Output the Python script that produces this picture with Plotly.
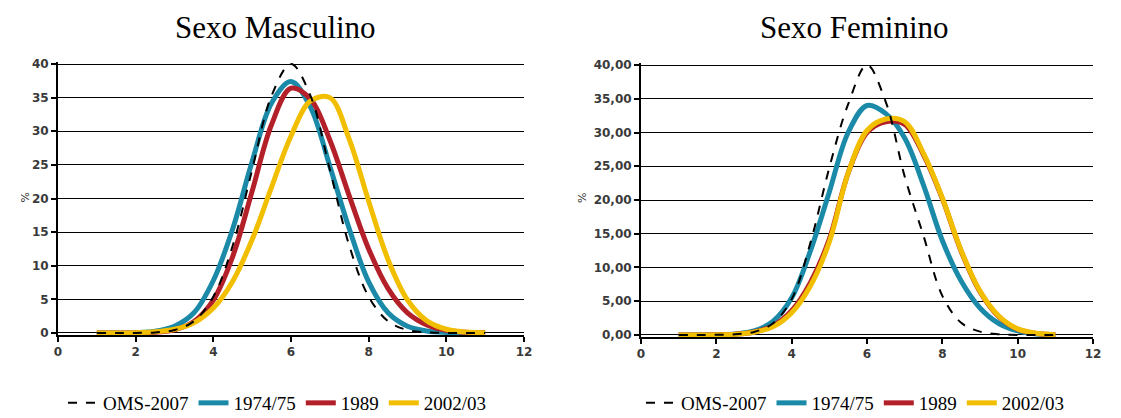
import plotly.graph_objects as go

# ---------------- data ----------------
x_vals = [1.0, 1.5, 2.0, 2.5, 3.0, 3.5, 4.0, 4.5, 5.0, 5.5, 6.0,
          6.5, 7.0, 7.5, 8.0, 8.5, 9.0, 9.5, 10.0, 10.5, 11.0]

series_names = ["OMS-2007", "1974/75", "1989", "2002/03"]

# Sexo Masculino
oms_m    = [0, 0, 0.01, 0.09, 0.44, 1.75, 5.4, 13.0, 24.3, 35.3, 40.0,
            35.3, 24.3, 13.0, 5.4, 1.75, 0.44, 0.09, 0.01, 0, 0]
y1974_m  = [0, 0, 0.05, 0.25, 1.0, 3.0, 7.8, 15.5, 25.5, 34.2, 37.4,
            33.6, 24.8, 15.5, 7.6, 3.0, 1.0, 0.3, 0.08, 0.02, 0]
y1989_m  = [0, 0, 0, 0.1, 0.47, 1.7, 4.9, 11.4, 21.1, 31.0, 36.4,
            34.8, 28.7, 20.4, 12.5, 6.6, 3.0, 1.2, 0.4, 0.1, 0.02]
y2002_m  = [0, 0.01, 0.05, 0.17, 0.56, 1.5, 3.7, 7.7, 13.9, 21.7, 29.3,
            34.5, 35.0, 28.8, 19.6, 10.9, 4.9, 1.8, 0.55, 0.13, 0.03]

# Sexo Feminino
oms_f    = [0, 0, 0.02, 0.1, 0.45, 1.7, 5.3, 13.7, 24.8, 34.2, 40.0,
            34.5, 23.5, 14.7, 5.8, 1.8, 0.5, 0.1, 0, 0, 0]
y1974_f  = [0, 0, 0.03, 0.15, 0.6, 2.0, 5.5, 12.5, 21.2, 30.0, 34.0,
            32.8, 29.2, 22.2, 14.0, 8.0, 4.0, 1.7, 0.6, 0.15, 0.03]
y1989_f  = [0, 0, 0.04, 0.12, 0.45, 1.35, 3.6, 7.8, 14.2, 24.0, 30.0,
            31.6, 31.2, 26.7, 20.2, 12.4, 6.4, 2.7, 0.85, 0.22, 0.04]
y2002_f  = [0, 0, 0.03, 0.1, 0.4, 1.2, 3.3, 7.3, 13.8, 24.0, 30.3,
            32.0, 31.6, 26.9, 20.3, 12.5, 6.5, 2.8, 0.9, 0.25, 0.05]

titles = ["Sexo Masculino", "Sexo Feminino"]
x_ticks = [0, 2, 4, 6, 8, 10, 12]

# ---------------- styles ----------------
colors = {"OMS-2007": "black", "1974/75": "#1B8AA8", "1989": "#B3202A", "2002/03": "#F2BE00"}
W, H = 1121, 418
serif = "Liberation Serif"
tickfont = dict(family="DejaVu Sans", size=12, color="#3a3a3a", weight="bold")

fig = go.Figure()

panels = [
    (dict(zip(series_names, [oms_m, y1974_m, y1989_m, y2002_m])), "x", "y", "legend"),
    (dict(zip(series_names, [oms_f, y1974_f, y1989_f, y2002_f])), "x2", "y2", "legend2"),
]

draw_order = ["1974/75", "1989", "2002/03", "OMS-2007"]
for data, xa, ya, lg in panels:
    for name in draw_order:
        rank = series_names.index(name) + 1
        if name == "OMS-2007":
            line = dict(color="black", width=2, dash="dash", shape="spline")
        else:
            line = dict(color=colors[name], width=5, shape="spline")
        fig.add_trace(go.Scatter(
            x=x_vals, y=data[name], mode="lines", name=name, line=line,
            xaxis=xa, yaxis=ya, legend=lg, legendrank=rank,
        ))

def px_x(p):
    return p / W

def px_y(p):
    return 1 - p / H

axis_common = dict(showline=True, linecolor="black", linewidth=2, ticks="outside",
                   tickcolor="black", tickwidth=1.5, ticklen=5, tickfont=tickfont,
                   automargin=False)

legend_font = dict(family=serif, size=19, color="black")

fig.update_layout(
    width=W, height=H, autosize=False,
    margin=dict(l=0, r=0, t=0, b=0, pad=0, autoexpand=False),
    paper_bgcolor="white", plot_bgcolor="white",
    separators=",.",
    xaxis=dict(domain=[px_x(58), px_x(524)], range=[0, 12], tickvals=x_ticks,
               showgrid=False, zeroline=False, anchor="y", **axis_common),
    yaxis=dict(domain=[px_y(335), px_y(62)], range=[-0.3, 40.3], dtick=5, tick0=0,
               showgrid=True, gridcolor="black", gridwidth=1.4, zeroline=False,
               anchor="x", **axis_common),
    xaxis2=dict(domain=[px_x(641), px_x(1093)], range=[0, 12], tickvals=x_ticks,
                showgrid=False, zeroline=False, anchor="y2", **axis_common),
    yaxis2=dict(domain=[px_y(337), px_y(63)], range=[-0.3, 40.3], dtick=5, tick0=0,
                tickformat=".2f", showgrid=True, gridcolor="black", gridwidth=1.4,
                zeroline=False, anchor="x2", **axis_common),
    legend=dict(orientation="h", x=px_x(63), y=px_y(403), xanchor="left", yanchor="middle",
                font=legend_font, bgcolor="rgba(0,0,0,0)", traceorder="normal"),
    legend2=dict(orientation="h", x=px_x(641), y=px_y(403), xanchor="left", yanchor="middle",
                 font=legend_font, bgcolor="rgba(0,0,0,0)", traceorder="normal"),
    showlegend=True,
)

annotations = [
    dict(text=titles[0], x=px_x(275), y=px_y(27), xref="paper", yref="paper",
         showarrow=False, font=dict(family=serif, size=31, color="black"),
         xanchor="center", yanchor="middle"),
    dict(text=titles[1], x=px_x(854), y=px_y(27), xref="paper", yref="paper",
         showarrow=False, font=dict(family=serif, size=31, color="black"),
         xanchor="center", yanchor="middle"),
    dict(text="%", x=px_x(17), y=px_y(198), xref="paper", yref="paper", textangle=-90,
         showarrow=False, font=dict(family="DejaVu Sans", size=11, color="#333333")),
    dict(text="%", x=px_x(583), y=px_y(198), xref="paper", yref="paper", textangle=-90,
         showarrow=False, font=dict(family="DejaVu Sans", size=11, color="#333333")),
]
fig.update_layout(annotations=annotations)

page_fix = (
    "document.body.style.margin='0';"
    "document.body.style.padding='0';"
    "document.body.style.overflow='hidden';"
)

fig.write_html(
    "out.html",
    config={"responsive": False, "displayModeBar": False},
    post_script=page_fix,
)
